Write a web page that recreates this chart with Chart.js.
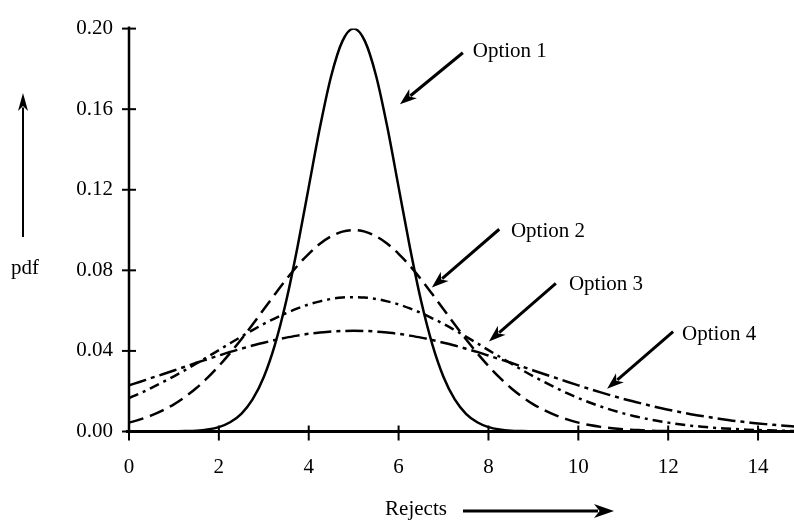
<!DOCTYPE html>
<html><head><meta charset="utf-8">
<script src="https://cdn.jsdelivr.net/npm/chart.js@4/dist/chart.umd.min.js"></script>
<style>html,body{margin:0;padding:0;background:#fff;}canvas{display:block;}</style>
</head><body>
<canvas id="c" width="794" height="526"></canvas>
<script>
const rejects = [0,0.25,0.5,0.75,1,1.25,1.5,1.75,2,2.25,2.5,2.75,3,3.25,3.5,3.75,4,4.25,4.5,4.75,5,5.25,5.5,5.75,6,6.25,6.5,6.75,7,7.25,7.5,7.75,8,8.25,8.5,8.75,9,9.25,9.5,9.75,10,10.25,10.5,10.75,11,11.25,11.5,11.75,12,12.25,12.5,12.75,13,13.25,13.5,13.75,14,14.25,14.5,14.75,15];
const option1 = [0,0,0,0,0.0001,0.0002,0.0004,0.0010,0.0022,0.0046,0.0088,0.0159,0.0271,0.0433,0.0649,0.0916,0.1213,0.1510,0.1765,0.1938,0.2000,0.1938,0.1765,0.1510,0.1213,0.0916,0.0649,0.0433,0.0271,0.0159,0.0088,0.0046,0.0022,0.0010,0.0004,0.0002,0.0001,0,0,0,0,0,0,0,0,0,0,0,0,0,0,0,0,0,0,0,0,0,0,0,0];
const option2 = [0.0044,0.0060,0.0080,0.0105,0.0135,0.0172,0.0216,0.0267,0.0325,0.0389,0.0458,0.0531,0.0607,0.0682,0.0755,0.0823,0.0882,0.0932,0.0969,0.0992,0.1000,0.0992,0.0969,0.0932,0.0882,0.0823,0.0755,0.0682,0.0607,0.0531,0.0458,0.0389,0.0325,0.0267,0.0216,0.0172,0.0135,0.0105,0.0080,0.0060,0.0044,0.0032,0.0023,0.0016,0.0011,0.0008,0.0005,0.0003,0.0002,0.0001,0.0001,0,0,0,0,0,0,0,0,0,0];
const option3 = [0.0166,0.0190,0.0217,0.0245,0.0274,0.0305,0.0338,0.0371,0.0404,0.0438,0.0471,0.0503,0.0534,0.0562,0.0588,0.0611,0.0631,0.0646,0.0658,0.0665,0.0667,0.0665,0.0658,0.0646,0.0631,0.0611,0.0588,0.0562,0.0534,0.0503,0.0471,0.0438,0.0404,0.0371,0.0338,0.0305,0.0274,0.0245,0.0217,0.0190,0.0166,0.0144,0.0124,0.0106,0.0090,0.0076,0.0064,0.0053,0.0044,0.0036,0.0029,0.0024,0.0019,0.0015,0.0012,0.0009,0.0007,0.0006,0.0004,0.0003,0.0003];
const option4 = [0.0229,0.0247,0.0266,0.0284,0.0303,0.0322,0.0341,0.0359,0.0377,0.0395,0.0411,0.0427,0.0441,0.0454,0.0466,0.0476,0.0485,0.0491,0.0496,0.0499,0.0500,0.0499,0.0496,0.0491,0.0485,0.0476,0.0466,0.0454,0.0441,0.0427,0.0411,0.0395,0.0377,0.0359,0.0341,0.0322,0.0303,0.0284,0.0266,0.0247,0.0229,0.0211,0.0194,0.0178,0.0162,0.0148,0.0134,0.0120,0.0108,0.0097,0.0086,0.0077,0.0068,0.0060,0.0052,0.0046,0.0040,0.0035,0.0030,0.0026,0.0022];
const seriesNames = ['Option 1','Option 2','Option 3','Option 4'];
const xTickValues = [0,2,4,6,8,10,12,14];
const yTickValues = [0,0.04,0.08,0.12,0.16,0.20];
const xAxisTitle = 'Rejects';
const yAxisTitle = 'pdf';

// callout placement (data units): label anchor, arrow start, arrow tip
const callouts = [
  {label:[7.65,0.1888], from:[7.43,0.1880], to:[6.03,0.1624]},
  {label:[8.50,0.0994], from:[8.24,0.1004], to:[6.74,0.0715]},
  {label:[9.79,0.0731], from:[9.50,0.0735], to:[8.01,0.0447]},
  {label:[12.31,0.0481], from:[12.11,0.0496], to:[10.64,0.0212]}
];
const dashes = [[], [15,7], [10,5,3,5], [18,5,4,5]];
const seriesValues = [option1, option2, option3, option4];
const FONT = "'Liberation Serif', 'Times New Roman', serif";

function drawArrow(ctx, x1, y1, x2, y2, len, half, lw) {
  const a = Math.atan2(y2 - y1, x2 - x1);
  const bx = x2 - Math.cos(a) * len * 0.8, by = y2 - Math.sin(a) * len * 0.8;
  ctx.save();
  ctx.strokeStyle = '#000'; ctx.fillStyle = '#000'; ctx.lineWidth = lw; ctx.lineCap = 'butt';
  ctx.beginPath(); ctx.moveTo(x1, y1); ctx.lineTo(bx, by); ctx.stroke();
  ctx.translate(x2, y2); ctx.rotate(a);
  ctx.beginPath();
  ctx.moveTo(0, 0);
  ctx.lineTo(-len, -half);
  ctx.lineTo(-len * 0.72, 0);
  ctx.lineTo(-len, half);
  ctx.closePath(); ctx.fill();
  ctx.restore();
}

const decor = {
  id: 'decor',
  afterDatasetsDraw(chart) {
    const ctx = chart.ctx, xs = chart.scales.x, ys = chart.scales.y;
    const x0 = xs.getPixelForValue(0), y0 = ys.getPixelForValue(0);
    ctx.save();
    ctx.strokeStyle = '#000';
    ctx.lineWidth = 2.5;
    ctx.beginPath(); ctx.moveTo(x0, ys.getPixelForValue(0.2) - 2); ctx.lineTo(x0, y0 + 1); ctx.stroke();
    ctx.lineWidth = 3;
    ctx.beginPath(); ctx.moveTo(x0 - 3, y0); ctx.lineTo(chart.width, y0); ctx.stroke();
    ctx.lineWidth = 2;
    yTickValues.forEach(v => { const p = ys.getPixelForValue(v); ctx.beginPath(); ctx.moveTo(x0 - 7, p); ctx.lineTo(x0 + 7, p); ctx.stroke(); });
    xTickValues.forEach(v => { const p = xs.getPixelForValue(v); ctx.beginPath(); ctx.moveTo(p, y0 - 6); ctx.lineTo(p, y0 + 9); ctx.stroke(); });
    ctx.font = '21px ' + FONT; ctx.fillStyle = '#000'; ctx.textBaseline = 'middle'; ctx.textAlign = 'left';
    callouts.forEach((c, i) => {
      ctx.fillText(seriesNames[i], xs.getPixelForValue(c.label[0]), ys.getPixelForValue(c.label[1]));
      drawArrow(ctx, xs.getPixelForValue(c.from[0]), ys.getPixelForValue(c.from[1]), xs.getPixelForValue(c.to[0]), ys.getPixelForValue(c.to[1]), 17, 6, 3);
    });
    ctx.textAlign = 'center';
    ctx.fillText(yAxisTitle, 25, 268);
    drawArrow(ctx, 23, 237, 23, 93, 18, 5, 2);
    ctx.fillText(xAxisTitle, 416, 509);
    drawArrow(ctx, 463, 511, 614, 511, 20, 7, 3);
    ctx.restore();
  }
};

new Chart(document.getElementById('c'), {
  type: 'line',
  data: {
    datasets: seriesValues.map((vals, i) => ({
      label: seriesNames[i],
      data: rejects.map((x, j) => ({x: x, y: vals[j]})),
      borderColor: '#000',
      borderWidth: 2.5,
      borderDash: dashes[i],
      pointRadius: 0,
      fill: false,
      cubicInterpolationMode: 'monotone'
    }))
  },
  options: {
    responsive: false,
    animation: false,
    devicePixelRatio: 1,
    layout: {padding: {top: 22, right: 0, left: 0, bottom: 0}},
    plugins: {legend: {display: false}, tooltip: {enabled: false}},
    scales: {
      x: {
        type: 'linear', min: 0, max: 14.8,
        afterBuildTicks: s => { s.ticks = xTickValues.map(v => ({value: v})); },
        afterFit: s => { s.height = 94.5; },
        grid: {display: false, drawTicks: false},
        border: {display: false},
        ticks: {color: '#000', font: {family: FONT, size: 21}, padding: 23, maxRotation: 0, autoSkip: false}
      },
      y: {
        type: 'linear', min: 0, max: 0.2,
        afterBuildTicks: s => { s.ticks = yTickValues.map(v => ({value: v})); },
        afterFit: s => { s.width = 129; },
        grid: {display: false, drawTicks: false},
        border: {display: false},
        ticks: {color: '#000', font: {family: FONT, size: 21}, padding: 16, callback: v => Number(v).toFixed(2)}
      }
    }
  },
  plugins: [decor]
});
</script>
</body></html>
